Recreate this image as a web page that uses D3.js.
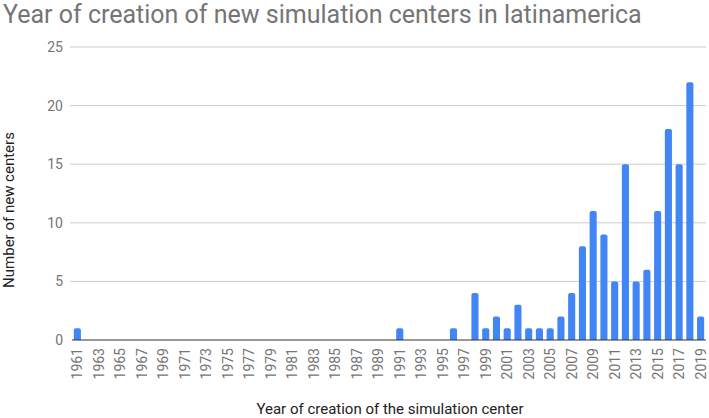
<!DOCTYPE html>
<html>
<head>
<meta charset="utf-8">
<script src="https://cdn.jsdelivr.net/npm/d3@7"></script>
<style>
  body { margin: 0; background: #fff; }
  text { font-family: Roboto, "Open Sans", sans-serif; }
</style>
</head>
<body>
<div id="chart"></div>
<script>
// years 1961..2019, every year is a category
var years = d3.range(1961, 2020);
var countYears = [1961, 1991, 1996, 1998, 1999, 2000, 2001, 2002, 2003, 2004, 2005, 2006, 2007,
                  2008, 2009, 2010, 2011, 2012, 2013, 2014, 2015, 2016, 2017, 2018, 2019];
var countValues = [1, 1, 1, 4, 1, 2, 1, 3, 1, 1, 1, 2, 4,
                   8, 11, 9, 5, 15, 5, 6, 11, 18, 15, 22, 2];
var yTicks = [0, 5, 10, 15, 20, 25];

var width = 709, height = 418;
var margin = { top: 47, right: 3, bottom: 78, left: 72 };

var lookup = {};
countYears.forEach(function(y, i) { lookup[y] = countValues[i]; });
var data = years.map(function(y) { return { year: y, value: lookup[y] || 0 }; });

var svg = d3.select("#chart").append("svg")
    .attr("width", width)
    .attr("height", height);

var x = d3.scaleBand()
    .domain(years)
    .range([margin.left, width - margin.right])
    .paddingInner(0.34)
    .paddingOuter(0.17);

var y = d3.scaleLinear()
    .domain([0, 25])
    .range([height - margin.bottom, margin.top]);

// title
svg.append("text")
    .attr("x", 3)
    .attr("y", 23)
    .style("font-size", "25px")
    .style("fill", "#757575")
    .text("Year of creation of new simulation centers in latinamerica");

// grid lines
svg.append("g")
    .selectAll("line")
    .data(yTicks.filter(function(d) { return d > 0; }))
    .enter().append("line")
    .attr("x1", margin.left - 2)
    .attr("x2", width - margin.right)
    .attr("y1", function(d) { return y(d); })
    .attr("y2", function(d) { return y(d); })
    .style("stroke", "#cccccc")
    .style("stroke-width", 1);

// y tick labels
svg.append("g")
    .selectAll("text")
    .data(yTicks)
    .enter().append("text")
    .attr("x", margin.left - 9)
    .attr("y", function(d) { return y(d); })
    .attr("dy", "0.35em")
    .attr("text-anchor", "end")
    .style("font-size", "14px")
    .style("fill", "#757575")
    .text(function(d) { return d; });

// bars with rounded tops
var r = 2;
svg.append("g")
    .selectAll("path")
    .data(data.filter(function(d) { return d.value > 0; }))
    .enter().append("path")
    .attr("d", function(d) {
        var x0 = x(d.year), w = x.bandwidth(), y0 = y(d.value), yb = y(0);
        return "M" + x0 + "," + yb +
            "V" + (y0 + r) +
            "Q" + x0 + "," + y0 + " " + (x0 + r) + "," + y0 +
            "H" + (x0 + w - r) +
            "Q" + (x0 + w) + "," + y0 + " " + (x0 + w) + "," + (y0 + r) +
            "V" + yb + "Z";
    })
    .style("fill", "#4285f4");

// baseline
svg.append("line")
    .attr("x1", margin.left)
    .attr("x2", width - margin.right)
    .attr("y1", y(0))
    .attr("y2", y(0))
    .style("stroke", "#333333")
    .style("stroke-width", 1.2);

// x tick labels, every other year, rotated
svg.append("g")
    .selectAll("text")
    .data(years.filter(function(d, i) { return i % 2 === 0; }))
    .enter().append("text")
    .attr("transform", function(d) {
        return "translate(" + (x(d) + x.bandwidth() / 2) + "," + (y(0) + 8) + ") rotate(-90)";
    })
    .attr("dy", "0.35em")
    .attr("text-anchor", "end")
    .style("font-size", "14px")
    .style("fill", "#757575")
    .text(function(d) { return d; });

// axis titles
svg.append("text")
    .attr("x", 390)
    .attr("y", 414)
    .attr("text-anchor", "middle")
    .style("font-size", "15px")
    .style("fill", "#222222")
    .text("Year of creation of the simulation center");

svg.append("text")
    .attr("transform", "translate(14,210) rotate(-90)")
    .attr("text-anchor", "middle")
    .style("font-size", "15px")
    .style("fill", "#222222")
    .text("Number of new centers");
</script>
</body>
</html>
